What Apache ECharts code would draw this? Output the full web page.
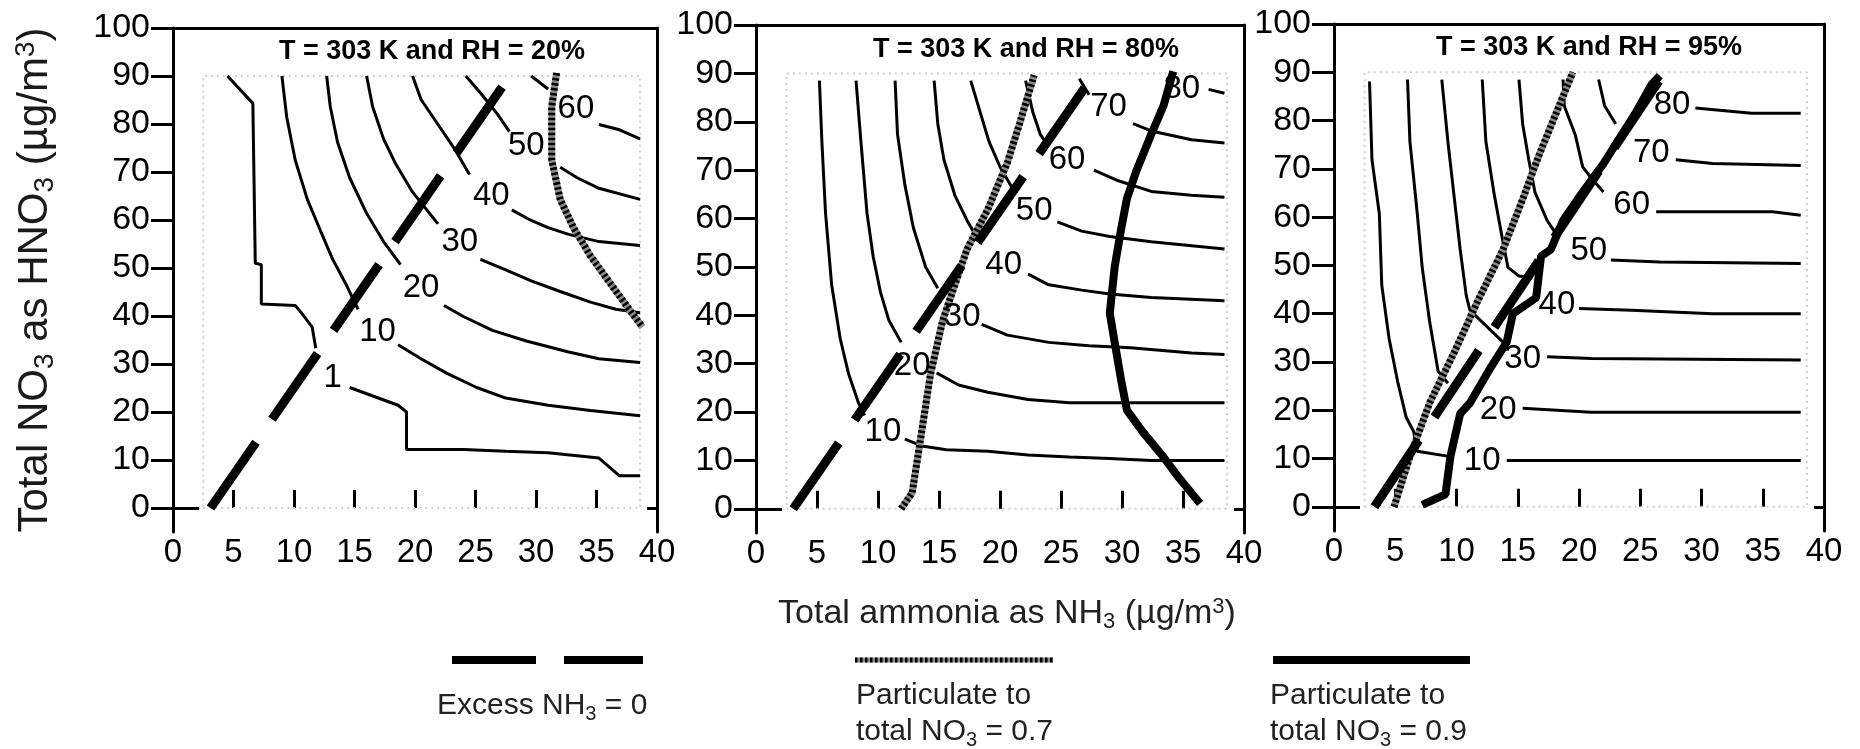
<!DOCTYPE html>
<html>
<head>
<meta charset="UTF-8">
<title>Total nitrate vs total ammonia isopleths</title>
<script src="https://cdn.jsdelivr.net/npm/echarts@6/dist/echarts.min.js"></script>
<style>
    html, body { margin: 0; padding: 0; background: #fff; }
    #chart { width: 1860px; height: 749px; }
</style>
</head>
<body>
<div id="chart"></div>
<script>
// ---- axes / texts ----
const xLabels = [0, 5, 10, 15, 20, 25, 30, 35, 40];
const xTicks = [5, 10, 15, 20, 25, 30, 35];
const yTicks = [0, 10, 20, 30, 40, 50, 60, 70, 80, 90, 100];
const panelTitles = ['T = 303 K and RH = 20%', 'T = 303 K and RH = 80%', 'T = 303 K and RH = 95%'];
// faint calculation domain
const domainBox = [[2.5, 0], [38.6, 0], [38.6, 90], [2.5, 90], [2.5, 0]];

// ---- RH = 20% ----  (null = gap where the label sits)
const rh20Contours = [
    [[4.5, 90], [6.6, 84.3], [6.8, 51], [7.3, 50.7], [7.3, 42.5], [10.1, 42.2], [10.6, 40.7], [11.5, 37.7], [11.8, 33.3], null,
     [14.6, 25.1], [18.6, 21.4], [19.3, 20], [19.3, 12.2], [24, 12.2], [27.5, 11.8], [31, 11.5], [35.2, 10.4], [35.9, 8.9], [36.9, 6.7], [38.6, 6.7]],
    [[9, 90], [9.4, 81.4], [10.1, 72.5], [11.1, 64.3], [12.2, 57.7], [13.2, 51.8], [14.3, 46.6], [15.3, 41.4], null,
     [18.6, 34], [20.5, 31.1], [22.6, 28.1], [25.1, 25.1], [27.5, 22.9], [31, 21.4], [34.5, 20.3], [38.6, 19.2]],
    [[12.7, 90], [13, 83.6], [13.6, 76.2], [14.6, 68.8], [16, 61.4], [17.4, 55.5], [18.8, 50.7], null,
     [22.4, 42.2], [24, 39.9], [26.4, 37], [29.2, 34.8], [32.7, 32.5], [35.2, 31.1], [38.6, 30.3]],
    [[16, 90], [16.5, 83.6], [17.4, 76.9], [18.4, 71.7], [19.8, 65.8], [21.9, 59.2], null,
     [25.4, 51.8], [27.5, 49.6], [29.6, 47.3], [32, 45.1], [34.5, 42.9], [36.6, 41.4], [38.6, 40.7]],
    [[19.8, 90], [20.5, 85.1], [21.9, 79.9], [23.3, 74.7], [24.5, 69.5], null,
     [28, 62.1], [29.6, 59.9], [31, 58.4], [32.7, 57], [35.2, 55.5], [38.6, 54.7]],
    [[24.2, 90], [25.4, 86.5], [26.8, 82.1], [27.8, 78.4], null,
     [32, 71], [33.4, 68.8], [35.2, 66.6], [38.6, 64.3]],
    [[29.6, 90], [31, 87.3], null,
     [35.2, 79.9], [36.9, 78.8], [38.6, 76.9]]
];
const rh20Labels = [[13.2, 27, '1'], [16.9, 36.6, '10'], [20.5, 45.9, '20'], [23.7, 55.5, '30'],
    [26.3, 65.1, '40'], [29.2, 75.4, '50'], [33.3, 83.2, '60']];
const rh20Excess = [[3.1, 0], [27.5, 88.8]];
const rh20Ratio07 = [[31.7, 90.6], [31.3, 83.6], [31.3, 72.5], [32, 64.3], [33.1, 58.4], [34.5, 52.5],
    [36.2, 46.6], [37.9, 40.7], [38.8, 37.7]];
const rh20Ratio09 = [];

// ---- RH = 80% ----
const rh80Contours = [
    [[5.2, 88.5], [5.4, 75.9], [5.7, 61.1], [6.2, 46.3], [6.9, 35.2], [7.6, 27.8], [8.4, 21.9], [8.9, 19.3], null,
     [12.2, 14.4], [13.6, 13], [15.6, 12.2], [19, 11.9], [22.3, 11.1], [25.7, 10.7], [29, 10.4], [32.4, 10], [38.4, 10]],
    [[8.2, 88.5], [8.6, 75.9], [9.1, 61.1], [9.6, 52.2], [10.2, 44.8], [10.9, 38.9], [11.9, 34.4], null,
     [14.8, 28.1], [16.6, 25.6], [19, 24.1], [22.3, 22.6], [25.7, 21.9], [38.4, 21.9]],
    [[11.4, 88.5], [11.6, 77.4], [12.2, 67], [12.9, 58.1], [13.9, 50], [14.9, 45.6], null,
     [18.5, 38.1], [20.6, 35.9], [24, 34.4], [27.3, 33.7], [30.7, 33.3], [35.7, 32.2], [38.4, 31.9]],
    [[14.6, 88.5], [14.9, 79.6], [15.4, 72.2], [16.3, 64.8], [17.3, 59.6], [18.3, 55.2], null,
     [22.3, 48.5], [24, 46.3], [26.7, 45.2], [29, 44.4], [32.4, 43.7], [38.4, 43]],
    [[17.6, 88.5], [18.3, 82.6], [19.1, 75.9], [20, 70.7], [21, 66.3], null,
     [24.7, 59.3], [26.7, 57.4], [29, 56.3], [32.4, 55.2], [38.4, 53.7]],
    [[22.1, 88.5], [22.7, 81.9], [23.3, 77.4], [23.8, 75.6], null,
     [27.7, 70], [29.7, 67.8], [32.4, 65.6], [35.7, 64.8], [38.4, 64.4]],
    [[26.5, 88.9], [27.3, 85.6], null,
     [30.9, 79.6], [32.4, 78.1], [35.7, 76.3], [38.4, 75.6]],
    [[37.1, 86.7], [38.4, 85.9]]
];
const rh80Labels = [[10.4, 15.9, '10'], [12.8, 29.6, '20'], [16.9, 39.6, '30'], [20.3, 50.4, '40'],
    [22.8, 61.5, '50'], [25.5, 72.2, '60'], [28.9, 83, '70'], [34.9, 86.7, '80']];
const rh80Excess = [[3.05, 0], [27.35, 88.5]];
const rh80Ratio07 = [[11.9, 0], [12.8, 3.3], [13.4, 13], [14.3, 27.8], [15.3, 38.9], [16.3, 46.3], [17.3, 53.7],
    [19, 61.9], [20.6, 71.5], [21.6, 79.6], [22.8, 89.6]];
const rh80Ratio09 = [[34.2, 90.4], [33.4, 83.3], [32.4, 77.4], [31.2, 70], [30.4, 64.1], [29.9, 57.4], [29.4, 50],
    [29, 40.4], [29.4, 34.4], [29.9, 27], [30.4, 20.4], [31.7, 15.9], [33.4, 10.7], [34.7, 6.3], [36.4, 1.1]];

// ---- RH = 95% ----
const rh95Contours = [
    [[2.9, 88.1], [3.1, 71.9], [3.7, 60.7], [3.9, 45.9], [4.5, 34.8], [5.2, 25.9], [5.9, 18.5], [6.5, 15.6], [6.8, 11.5], [9.5, 10.4], null,
     [14.1, 9.6], [38.1, 9.6]],
    [[6, 88.5], [6.2, 75.6], [6.8, 60.7], [7.2, 49.6], [7.8, 38.5], [8.5, 28.1], [9.3, 25.6], null,
     [15.4, 20.4], [21, 19.6], [38.1, 19.6]],
    [[8.8, 88.5], [9.3, 75.6], [9.8, 64.4], [10.3, 53.3], [10.8, 43.7], [11.1, 40.7], [13.8, 34.1], null,
     [17.4, 31.1], [21, 30.7], [38.1, 30.4]],
    [[12.1, 88.5], [12.4, 75.6], [13.1, 64.4], [13.8, 54.8], [14.2, 49.6], [15.1, 47.8], [16.1, 47.4], null,
     [20, 41.1], [24.3, 40.7], [30.9, 40], [38.1, 40]],
    [[15.1, 88.5], [15.4, 79.3], [15.9, 71.9], [16.4, 65.2], [17.4, 59.3], [18, 57], null,
     [22.6, 51.1], [26.6, 50.7], [38.1, 50.4]],
    [[18.7, 88.5], [18.8, 83], [19.7, 77], [20.3, 70.4], [21, 68.1], [22, 65.2], null,
     [26.3, 61.1], [35.8, 61.1], [38.1, 60.4]],
    [[21.6, 88.5], [22.1, 83], [23, 79.3], null,
     [27.9, 71.9], [30.9, 71.1], [38.1, 70.7]],
    [[29.5, 82.6], [34.1, 81.5], [38.1, 81.5]]
];
const rh95Labels = [[12.1, 9.6, '10'], [13.4, 20, '20'], [15.4, 30.7, '30'], [18.2, 41.9, '40'],
    [20.8, 53, '50'], [24.3, 62.6, '60'], [25.9, 73.3, '70'], [27.6, 83.3, '80']];
const rh95Excess = [[3.3, 0], [26.6, 88.5]];
const rh95Ratio07 = [[4.9, 0], [6.2, 10.4], [7.8, 21.5], [9.8, 31.9], [11.8, 43], [13.8, 53.3], [15.4, 63.7],
    [16.7, 72.6], [18, 80.7], [19.5, 90]];
const rh95Ratio09 = [[7.2, 0.4], [9.1, 2.6], [9.5, 10.4], [10.3, 19.3], [11.1, 21.5], [12.8, 28.9], [14.1, 34.1],
    [14.6, 40], [16.5, 43.3], [16.9, 51.9], [17.7, 53.3], [18.7, 59.3], [20.3, 65.2], [22, 71.1], [23.3, 76.3],
    [24.6, 81.5], [25.9, 87.4], [26.6, 89.3]];

// ---- layout ----
const FONT = "'Liberation Sans', Arial, Helvetica, sans-serif";
const grids = [
    { left: 173, top: 28, width: 484, height: 504 },
    { left: 756, top: 25, width: 488, height: 508 },
    { left: 1334, top: 24, width: 490, height: 507 }
];
const titlePos = [[432, 52], [1026, 50], [1589, 48]];
const panels = [
    { contours: rh20Contours, labels: rh20Labels, excess: rh20Excess, r07: rh20Ratio07, r09: rh20Ratio09 },
    { contours: rh80Contours, labels: rh80Labels, excess: rh80Excess, r07: rh80Ratio07, r09: rh80Ratio09 },
    { contours: rh95Contours, labels: rh95Labels, excess: rh95Excess, r07: rh95Ratio07, r09: rh95Ratio09 }
];

// split a contour on null gaps
function pieces(line) {
    const out = [];
    let cur = [];
    line.forEach(p => {
        if (p === null) {
            if (cur.length) out.push(cur);
            cur = [];
        } else {
            cur.push(p);
        }
    });
    if (cur.length) out.push(cur);
    return out;
}

const xAxes = [];
const yAxes = [];
const series = [];

grids.forEach((g, i) => {
    // bottom: ticks + labels, no line
    xAxes.push({
        gridIndex: i, type: 'value', position: 'bottom', min: 0, max: 40, interval: 5,
        axisLine: { show: false },
        axisTick: { show: true, inside: true, length: 18, customValues: xTicks, lineStyle: { color: '#000', width: 3 } },
        axisLabel: { customValues: xLabels, fontSize: 33, fontFamily: FONT, color: '#000', margin: 4 },
        splitLine: { show: false }
    });
    // top border
    xAxes.push({
        gridIndex: i, type: 'value', position: 'top', min: 0, max: 40,
        axisLine: { show: true, onZero: false, lineStyle: { color: '#000', width: 3 } },
        axisTick: { show: false }, axisLabel: { show: false }, splitLine: { show: false }
    });
    const left = {
        gridIndex: i, type: 'value', position: 'left', min: -5, max: 100,
        axisLine: { show: true, onZero: false, lineStyle: { color: '#000', width: 3 } },
        axisTick: { show: true, length: 22, customValues: yTicks, lineStyle: { color: '#000', width: 3 } },
        axisLabel: { customValues: yTicks, fontSize: 34, fontFamily: FONT, color: '#000', margin: 23 },
        splitLine: { show: false }
    };
    if (i === 0) {
        left.name = 'Total NO{sub|3} as HNO{sub|3} (µg/m{sup|3})';
        left.nameLocation = 'middle';
        left.nameRotate = 90;
        left.nameGap = 114;
        left.nameTextStyle = {
            fontSize: 42, fontFamily: FONT, color: '#1a1a1a',
            rich: {
                sub: { fontFamily: FONT, fontSize: 28, color: '#1a1a1a', padding: [20, 0, 0, 0] },
                sup: { fontFamily: FONT, fontSize: 28, color: '#1a1a1a', padding: [0, 0, 18, 0] }
            }
        };
    }
    yAxes.push(left);
    // right border with inner tick at 0
    yAxes.push({
        gridIndex: i, type: 'value', position: 'right', min: -5, max: 100,
        axisLine: { show: true, onZero: false, lineStyle: { color: '#000', width: 3 } },
        axisTick: { show: true, inside: true, length: 10, customValues: [0], lineStyle: { color: '#000', width: 3 } },
        axisLabel: { show: false }, splitLine: { show: false }
    });
    // inner part of the 0 tick on the left
    yAxes.push({
        gridIndex: i, type: 'value', position: 'left', min: -5, max: 100,
        axisLine: { show: false },
        axisTick: { show: true, inside: true, length: 26, customValues: [0], lineStyle: { color: '#000', width: 3 } },
        axisLabel: { show: false }, splitLine: { show: false }
    });

    const xi = i * 2, yi = i * 3;
    const p = panels[i];
    const base = { xAxisIndex: xi, yAxisIndex: yi, symbol: 'none', silent: true, animation: false };

    series.push(Object.assign({}, base, {
        type: 'line', data: domainBox, z: 1,
        lineStyle: { color: '#cfcfcf', width: 2, type: [2, 4] }
    }));
    p.contours.forEach(c => {
        pieces(c).forEach(seg => {
            series.push(Object.assign({}, base, {
                type: 'line', data: seg, z: 2,
                lineStyle: { color: '#000', width: 3 }
            }));
        });
    });
    if (p.r07.length) {
        series.push(Object.assign({}, base, {
            type: 'line', data: p.r07, z: 3,
            lineStyle: { color: '#8a8a8a', width: 7 }
        }));
        series.push(Object.assign({}, base, {
            type: 'line', data: p.r07, z: 4,
            lineStyle: { color: '#000', width: 7, type: [2.5, 2.5] }
        }));
    }
    if (p.r09.length) {
        series.push(Object.assign({}, base, {
            type: 'line', data: p.r09, z: 5,
            lineStyle: { color: '#000', width: 8 }
        }));
    }
    series.push(Object.assign({}, base, {
        type: 'line', data: p.excess, z: 5,
        lineStyle: { color: '#000', width: 9, type: [80, 28] }
    }));
    series.push({
        type: 'scatter', xAxisIndex: xi, yAxisIndex: yi, data: p.labels, z: 6,
        symbolSize: 0, silent: true, animation: false,
        itemStyle: { color: '#000', opacity: 1 },
        label: {
            show: true, position: 'inside', formatter: q => q.value[2],
            fontSize: 33, fontFamily: FONT, color: '#000', opacity: 1
        }
    });
});

const graphics = [];
panelTitles.forEach((t, i) => {
    graphics.push({
        type: 'text', x: titlePos[i][0], y: titlePos[i][1],
        style: { text: t, font: 'bold 27px ' + FONT, fill: '#000', textAlign: 'center', textVerticalAlign: 'middle', align: 'center', verticalAlign: 'middle' }
    });
});
// x axis title
graphics.push({
    type: 'text', x: 1007, y: 614,
    style: {
        text: 'Total ammonia as NH{sub|3} (µg/m{sup|3})', font: '34px ' + FONT, fill: '#222',
        textAlign: 'center', textVerticalAlign: 'middle', align: 'center', verticalAlign: 'middle',
        rich: {
            sub: { fontFamily: FONT, fontSize: 22, fill: '#222', padding: [16, 0, 0, 0] },
            sup: { fontFamily: FONT, fontSize: 22, fill: '#222', padding: [0, 0, 14, 0] }
        }
    }
});
// legend marks
graphics.push({ type: 'line', shape: { x1: 452, y1: 660, x2: 643, y2: 660 }, style: { stroke: '#000', lineWidth: 8, lineDash: [84, 28] } });
graphics.push({ type: 'line', shape: { x1: 855, y1: 660, x2: 1053, y2: 660 }, style: { stroke: '#8a8a8a', lineWidth: 5 } });
graphics.push({ type: 'line', shape: { x1: 855, y1: 660, x2: 1053, y2: 660 }, style: { stroke: '#000', lineWidth: 5, lineDash: [2.5, 2.5] } });
graphics.push({ type: 'line', shape: { x1: 1273, y1: 660, x2: 1470, y2: 660 }, style: { stroke: '#000', lineWidth: 8 } });
// legend texts
const legendRich = {
    sub: { fontFamily: FONT, fontSize: 20, fill: '#222', padding: [16, 0, 0, 0] }
};
graphics.push({
    type: 'text', x: 437, y: 706,
    style: { text: 'Excess NH{sub|3} = 0', font: '30px ' + FONT, fill: '#222', textAlign: 'left', textVerticalAlign: 'middle', align: 'left', verticalAlign: 'middle', rich: legendRich }
});
graphics.push({
    type: 'text', x: 856, y: 696,
    style: { text: 'Particulate to', font: '30px ' + FONT, fill: '#222', textAlign: 'left', textVerticalAlign: 'middle', align: 'left', verticalAlign: 'middle' }
});
graphics.push({
    type: 'text', x: 856, y: 732,
    style: { text: 'total NO{sub|3} = 0.7', font: '30px ' + FONT, fill: '#222', textAlign: 'left', textVerticalAlign: 'middle', align: 'left', verticalAlign: 'middle', rich: legendRich }
});
graphics.push({
    type: 'text', x: 1270, y: 696,
    style: { text: 'Particulate to', font: '30px ' + FONT, fill: '#222', textAlign: 'left', textVerticalAlign: 'middle', align: 'left', verticalAlign: 'middle' }
});
graphics.push({
    type: 'text', x: 1270, y: 732,
    style: { text: 'total NO{sub|3} = 0.9', font: '30px ' + FONT, fill: '#222', textAlign: 'left', textVerticalAlign: 'middle', align: 'left', verticalAlign: 'middle', rich: legendRich }
});

const myChart = echarts.init(document.getElementById('chart'));
myChart.setOption({
    animation: false,
    backgroundColor: '#fff',
    grid: grids,
    xAxis: xAxes,
    yAxis: yAxes,
    series: series,
    graphic: graphics
});
</script>
</body>
</html>
